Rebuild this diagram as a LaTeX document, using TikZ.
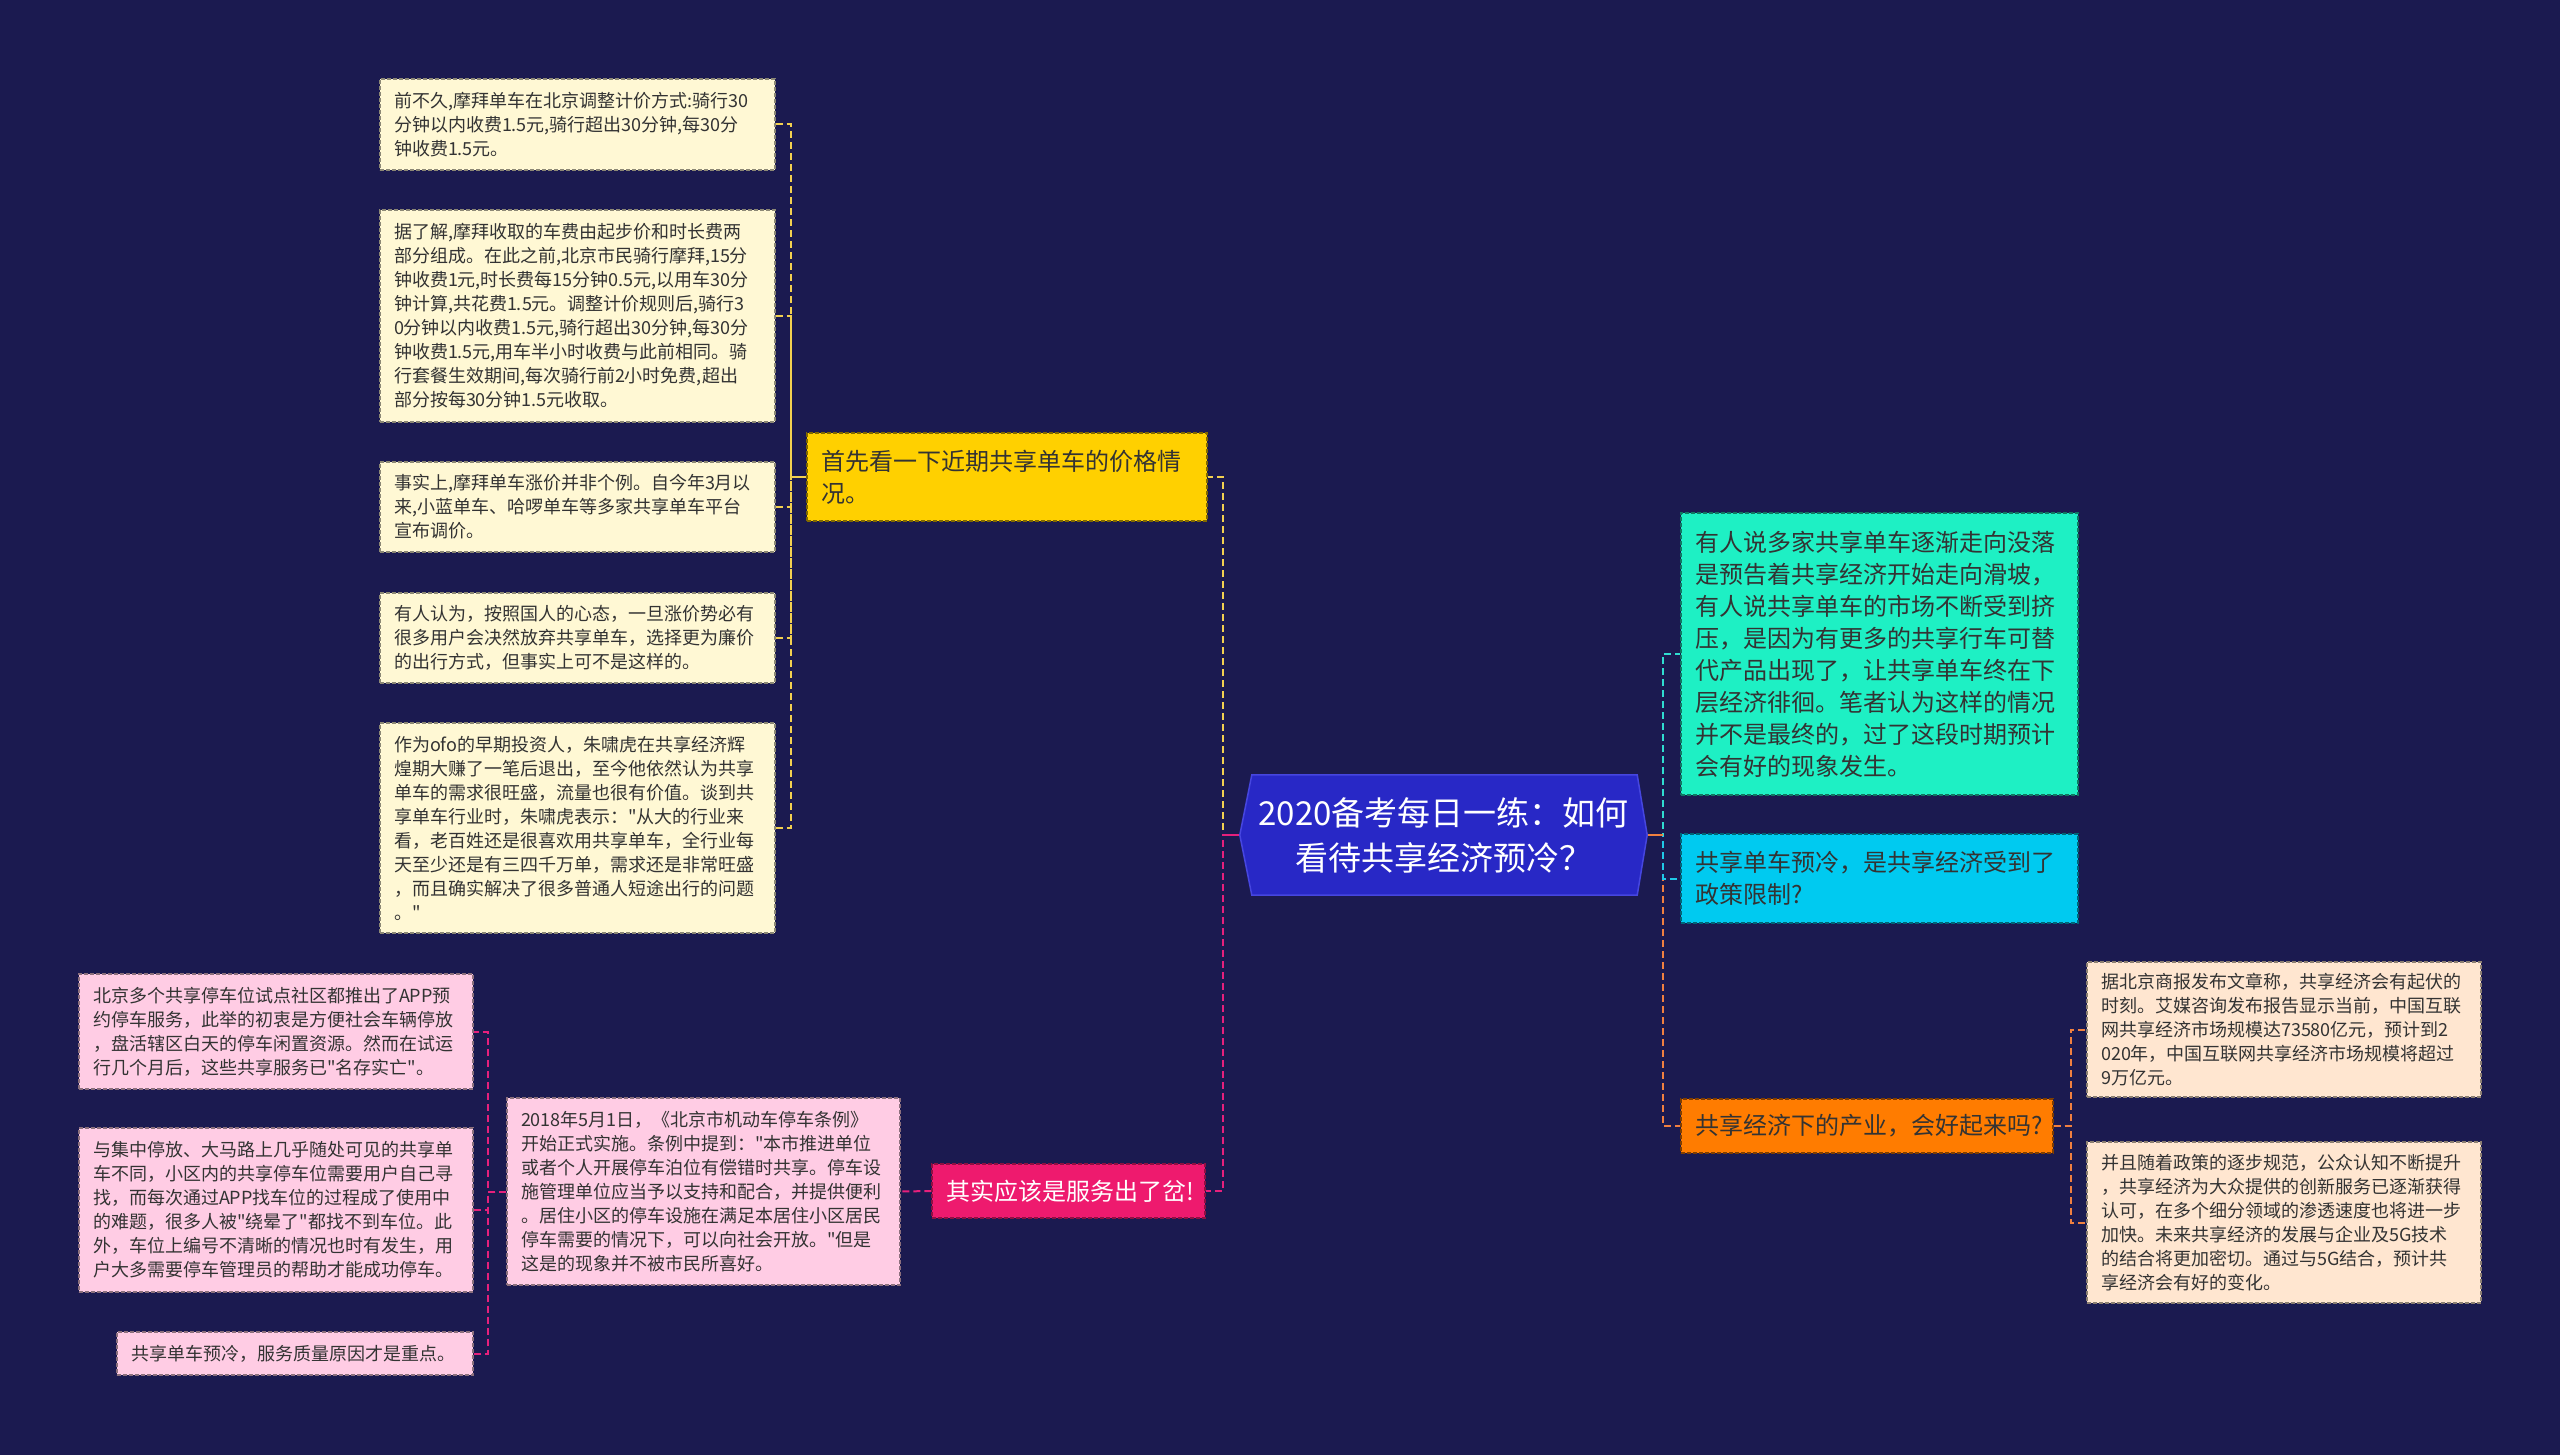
\documentclass[tikz,border=0pt]{standalone}
\usepackage{fontspec}
\setmainfont{Noto Sans CJK SC}[Ligatures=TeXOff]
\usetikzlibrary{backgrounds,calc}
\definecolor{bgc}{HTML}{1B1A50}
\definecolor{cblue}{HTML}{2828C6}
\definecolor{cborder}{HTML}{4646E0}
\definecolor{ylw}{HTML}{FFD000}
\definecolor{cream}{HTML}{FFF8D4}
\definecolor{hpink}{HTML}{EE1A6E}
\definecolor{lpink}{HTML}{FFCCE4}
\definecolor{teal}{HTML}{1EF0C4}
\definecolor{cyan}{HTML}{00CAF0}
\definecolor{orng}{HTML}{FF7C00}
\definecolor{peach}{HTML}{FFE6D0}
\definecolor{txt}{HTML}{333333}
\definecolor{ycon}{HTML}{F2D050}
\definecolor{pcon}{HTML}{E6207C}
\definecolor{tcon}{HTML}{30DCD0}
\definecolor{scon}{HTML}{20C8E8}
\definecolor{ocon}{HTML}{F08040}
\tikzset{
  boxbase/.style={rectangle, line width=1.2pt, dash pattern=on 4pt off 2pt, align=left, inner xsep=10pt, inner ysep=0pt, text=txt},
  smallfont/.style={font=\fontsize{18}{24}\selectfont},
  bigfont/.style={font=\fontsize{24}{32}\selectfont},
  creambox/.style={boxbase, smallfont, fill=cream, draw=cream!55!black},
  pinkbox/.style={boxbase, smallfont, fill=lpink, draw=lpink!55!black},
  peachbox/.style={boxbase, smallfont, fill=peach, draw=peach!55!black},
  ylwbox/.style={boxbase, bigfont, inner xsep=14pt, fill=ylw, draw=ylw!50!black},
  hpinkbox/.style={boxbase, bigfont, inner xsep=12pt, fill=hpink, draw=hpink!60!black, text=white},
  tealbox/.style={boxbase, bigfont, inner xsep=14pt, fill=teal, draw=teal!50!black},
  cyanbox/.style={boxbase, bigfont, inner xsep=14pt, fill=cyan, draw=cyan!50!black},
  orngbox/.style={boxbase, bigfont, inner xsep=14pt, fill=orng, draw=orng!50!black},
  con/.style={line width=2pt, dash pattern=on 7pt off 4pt},
}
\newcommand\bx[7]{%
  \pgfmathsetmacro\bxw{#5-#3}%
  \pgfmathsetmacro\bxh{#6-#4}%
  \pgfmathsetmacro\bxtw{#5-#3-28}%
  \pgfmathsetmacro\bxcx{(#3+#5)/2}%
  \pgfmathsetmacro\bxcy{(#4+#6)/2}%
  \node[#2, minimum width=\bxw pt, minimum height=\bxh pt, text width=\bxtw pt] (#1) at (\bxcx,\bxcy) {#7};}
\begin{document}
\begin{tikzpicture}[x=1pt,y=-1pt]
\useasboundingbox (0,0) rectangle (2560,1455);
% center
\node[font=\fontsize{33}{45}\selectfont, text=white, align=center, minimum width=407pt, minimum height=120pt, inner sep=0pt] (c) at (1443.5,835) {2020备考每日一练：如何\\看待共享经济预冷？};
% left upper branch
\bx{Y}{ylwbox}{807}{433}{1207}{521}{首先看一下近期共享单车的价格情\\况。}
\bx{L1}{creambox}{380}{79}{775}{170}{前不久,摩拜单车在北京调整计价方式:骑行30\\分钟以内收费1.5元,骑行超出30分钟,每30分\\钟收费1.5元。}
\bx{L2}{creambox}{380}{210}{775}{422}{据了解,摩拜收取的车费由起步价和时长费两\\部分组成。在此之前,北京市民骑行摩拜,15分\\钟收费1元,时长费每15分钟0.5元,以用车30分\\钟计算,共花费1.5元。调整计价规则后,骑行3\\0分钟以内收费1.5元,骑行超出30分钟,每30分\\钟收费1.5元,用车半小时收费与此前相同。骑\\行套餐生效期间,每次骑行前2小时免费,超出\\部分按每30分钟1.5元收取。}
\bx{L3}{creambox}{380}{462}{775}{552}{事实上,摩拜单车涨价并非个例。自今年3月以\\来,小蓝单车、哈啰单车等多家共享单车平台\\宣布调价。}
\bx{L4}{creambox}{380}{593}{775}{683}{有人认为，按照国人的心态，一旦涨价势必有\\很多用户会决然放弃共享单车，选择更为廉价\\的出行方式，但事实上可不是这样的。}
\bx{L5}{creambox}{380}{723}{775}{933}{作为ofo的早期投资人，朱啸虎在共享经济辉\\煌期大赚了一笔后退出，至今他依然认为共享\\单车的需求很旺盛，流量也很有价值。谈到共\\享单车行业时，朱啸虎表示："从大的行业来\\看，老百姓还是很喜欢用共享单车，全行业每\\天至少还是有三四千万单，需求还是非常旺盛\\，而且确实解决了很多普通人短途出行的问题\\。"}
% left lower branch
\bx{P}{hpinkbox}{932}{1164}{1205}{1218}{其实应该是服务出了岔!}
\bx{Q}{pinkbox}{507}{1098}{900}{1285}{2018年5月1日，《北京市机动车停车条例》\\开始正式实施。条例中提到："本市推进单位\\或者个人开展停车泊位有偿错时共享。停车设\\施管理单位应当予以支持和配合，并提供便利\\。居住小区的停车设施在满足本居住小区居民\\停车需要的情况下，可以向社会开放。"但是\\这是的现象并不被市民所喜好。}
\bx{A}{pinkbox}{79}{974}{473}{1089}{北京多个共享停车位试点社区都推出了APP预\\约停车服务，此举的初衷是方便社会车辆停放\\，盘活辖区白天的停车闲置资源。然而在试运\\行几个月后，这些共享服务已"名存实亡"。}
\bx{B}{pinkbox}{79}{1128}{473}{1292}{与集中停放、大马路上几乎随处可见的共享单\\车不同，小区内的共享停车位需要用户自己寻\\找，而每次通过APP找车位的过程成了使用中\\的难题，很多人被"绕晕了"都找不到车位。此\\外，车位上编号不清晰的情况也时有发生，用\\户大多需要停车管理员的帮助才能成功停车。}
\bx{C}{pinkbox}{117}{1332}{473}{1375}{共享单车预冷，服务质量原因才是重点。}
% right branch
\bx{T}{tealbox}{1681}{513}{2078}{795}{有人说多家共享单车逐渐走向没落\\是预告着共享经济开始走向滑坡，\\有人说共享单车的市场不断受到挤\\压，是因为有更多的共享行车可替\\代产品出现了，让共享单车终在下\\层经济徘徊。笔者认为这样的情况\\并不是最终的，过了这段时期预计\\会有好的现象发生。}
\bx{S}{cyanbox}{1681}{834}{2078}{923}{共享单车预冷，是共享经济受到了\\政策限制?}
\bx{O}{orngbox}{1681}{1099}{2053}{1153}{共享经济下的产业，会好起来吗?}
\bx{R1}{peachbox}{2087}{962}{2481}{1097}{据北京商报发布文章称，共享经济会有起伏的\\时刻。艾媒咨询发布报告显示当前，中国互联\\网共享经济市场规模达73580亿元，预计到2\\020年，中国互联网共享经济市场规模将超过\\9万亿元。}
\bx{R2}{peachbox}{2087}{1142}{2481}{1303}{并且随着政策的逐步规范，公众认知不断提升\\，共享经济为大众提供的创新服务已逐渐获得\\认可，在多个细分领域的渗透速度也将进一步\\加快。未来共享经济的发展与企业及5G技术\\的结合将更加密切。通过与5G结合，预计共\\享经济会有好的变化。}
\begin{scope}[on background layer]
\fill[bgc] (0,0) rectangle (2560,1455);
% connectors
\draw[con, ycon] (c.west) -- ++(-17,0) |- (Y.east);
\draw[con, pcon] (c.west) -- ++(-17,0) |- (P.east);
\draw[line width=2pt, pcon] (c.west) -- ++(-17,0);
\foreach \n in {L1,L2,L3,L4,L5} \draw[con, ycon] (\n.east) -- ++(15,0) |- (Y.west);
\draw[con, pcon] (P.west) -- (Q.east);
\foreach \n in {A,B,C} \draw[con, pcon] (Q.west) -- ++(-18,0) |- (\n.east);
\draw[con, ocon] (c.east) -- ++(16,0) |- (O.west);
\draw[con, scon] (c.east) -- ++(16,0) |- (S.west);
\draw[con, tcon] (c.east) -- ++(16,0) |- (T.west);
\draw[line width=2pt, ocon] (c.east) -- ++(16,0);
\foreach \n in {R1,R2} \draw[con, ocon] (O.east) -- ++(17,0) |- (\n.west);
% central hexagon
\filldraw[fill=cblue, draw=cborder, line width=1.5pt]
  ($(c.north west)+(12,0)$) -- ($(c.north east)+(-10,0)$) -- (c.east)
  -- ($(c.south east)+(-10,0)$) -- ($(c.south west)+(12,0)$) -- (c.west) -- cycle;
\end{scope}
\end{tikzpicture}
\end{document}
